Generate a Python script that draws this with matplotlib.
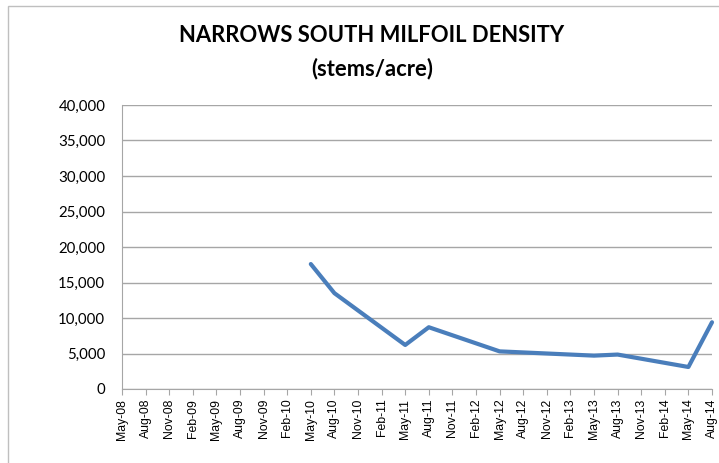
import numpy as np
import matplotlib
matplotlib.use('Agg')
import matplotlib.pyplot as plt
from matplotlib.patches import Rectangle
from matplotlib.ticker import FuncFormatter

# quarterly sampling dates on the category axis
dates = ['May-08', 'Aug-08', 'Nov-08', 'Feb-09', 'May-09', 'Aug-09', 'Nov-09',
         'Feb-10', 'May-10', 'Aug-10', 'Nov-10', 'Feb-11', 'May-11', 'Aug-11',
         'Nov-11', 'Feb-12', 'May-12', 'Aug-12', 'Nov-12', 'Feb-13', 'May-13',
         'Aug-13', 'Nov-13', 'Feb-14', 'May-14', 'Aug-14']

# surveyed dates and milfoil density (stems/acre)
survey_dates = ['May-10', 'Aug-10', 'May-11', 'Aug-11', 'May-12', 'May-13',
                'Aug-13', 'May-14', 'Aug-14']
density = [17600, 13500, 6200, 8700, 5300, 4700, 4850, 3100, 9400]

W, H = 719, 463
fig = plt.figure(figsize=(W / 100, H / 100), dpi=100)

# chart border
fig.patches.append(Rectangle((8 / W, -0.05), 1.2, 1 - 6 / H + 0.05,
                             transform=fig.transFigure, fill=False,
                             edgecolor='#bfbfbf', linewidth=1))

ax = fig.add_axes([122 / W, 1 - 389 / H, (712 - 122) / W, (389 - 105) / H])

x = [dates.index(d) for d in survey_dates]
ax.plot(x, density, color='#4a7ebb', linewidth=3, solid_capstyle='round',
        solid_joinstyle='round', zorder=3, clip_on=False)

ax.set_xlim(0, len(dates) - 1)
ax.set_ylim(0, 40000)
ax.set_yticks(np.arange(0, 40001, 5000))
ax.yaxis.set_major_formatter(FuncFormatter(lambda v, p: f'{int(v):,}'))
ax.set_xticks(range(len(dates)))
ax.set_xticklabels(dates, rotation=90, fontsize=8.8, family='Liberation Sans')

ax.grid(axis='y', color='#a6a6a6', linewidth=1)
ax.set_axisbelow(True)
for s in ['top', 'right']:
    ax.spines[s].set_visible(False)
for s in ['left', 'bottom']:
    ax.spines[s].set_color('#a6a6a6')
ax.tick_params(axis='y', length=0, pad=12, labelsize=10.8)
ax.tick_params(axis='x', length=4, color='#a6a6a6', pad=3)
for lab in ax.get_yticklabels():
    lab.set_family('Lato')

fig.text(372 / W, 1 - 36 / H, 'NARROWS SOUTH MILFOIL DENSITY', ha='center',
         va='center', fontsize=15.8, fontweight='bold', family='Lato')
fig.text(372 / W, 1 - 69 / H, '(stems/acre)', ha='center', va='center',
         fontsize=15.8, fontweight='bold', family='Lato')

fig.savefig('out.png', dpi=100)
